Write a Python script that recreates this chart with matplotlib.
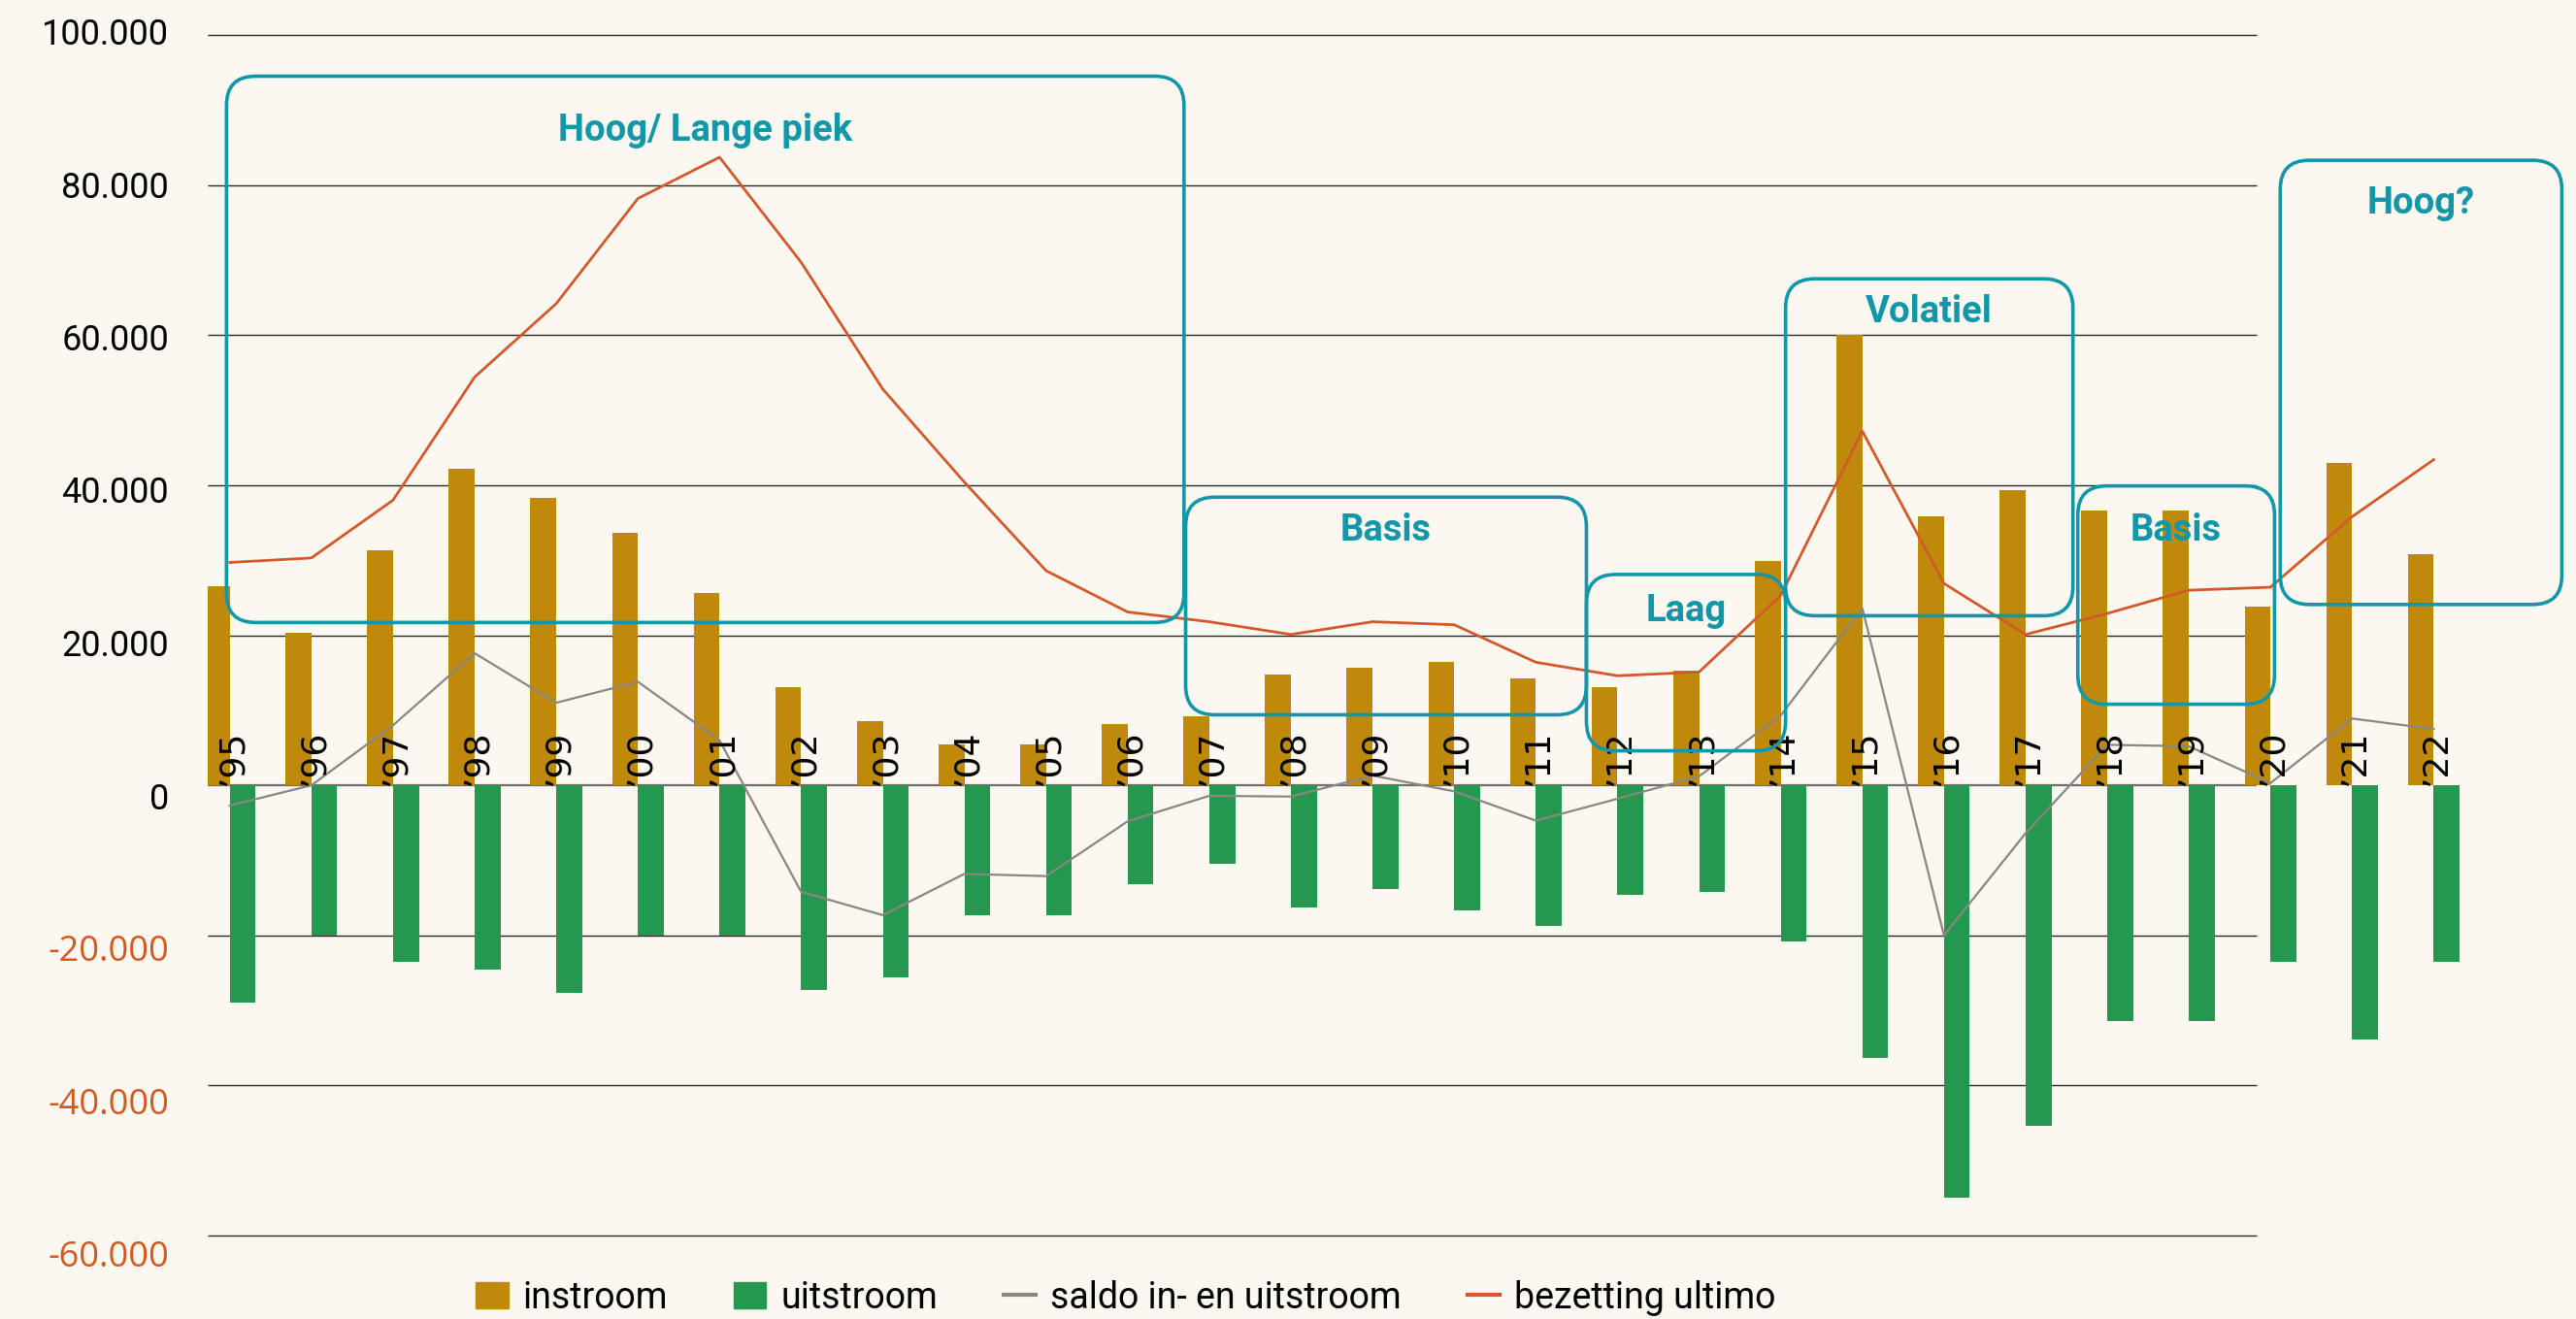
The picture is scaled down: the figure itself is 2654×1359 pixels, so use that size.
import numpy as np
import matplotlib
matplotlib.use("Agg")
import matplotlib.pyplot as plt
import matplotlib.transforms as mtransforms
from matplotlib.patches import FancyBboxPatch, Patch
from matplotlib.lines import Line2D

# data
years = ["95", "96", "97", "98", "99", "00", "01", "02", "03", "04", "05", "06", "07", "08",
         "09", "10", "11", "12", "13", "14", "15", "16", "17", "18", "19", "20", "21", "22"]
instroom = [26500, 20300, 31300, 42200, 38300, 33700, 25600, 13100, 8600, 5400, 5400, 8200, 9200, 14800,
            15700, 16400, 14200, 13100, 15300, 29900, 60000, 35900, 39300, 36600, 36600, 23800, 43000, 30800]
uitstroom = [-29000, -20000, -23500, -24600, -27700, -20000, -20000, -27300, -25600, -17300, -17300, -13200, -10500, -16300,
             -13800, -16700, -18700, -14600, -14200, -20800, -36300, -55000, -45400, -31400, -31400, -23500, -33900, -23500]
saldo = [-2700, 0, 8000, 17600, 11000, 13800, 6000, -14200, -17300, -11800, -12100, -4800, -1400, -1500,
         1300, -800, -4700, -1800, 1200, 9300, 23600, -20000, -6400, 5400, 5200, 300, 8900, 7500]
bezetting = [29700, 30300, 38000, 54400, 64200, 78200, 83700, 69700, 52800, 40400, 28600, 23100, 21800, 20100,
             21800, 21400, 16400, 14600, 15100, 25300, 47200, 26900, 20100, 22900, 26000, 26400, 35800, 43400]
yticks = [100000, 80000, 60000, 40000, 20000, 0, -20000, -40000, -60000]

# periods (annotation boxes)
period_labels = ["Hoog/ Lange piek", "Basis", "Laag", "Volatiel", "Basis", "Hoog?"]
period_x0 = [-0.04, 11.71, 16.62, 19.06, 22.64, 25.12]
period_x1 = [11.69, 16.62, 19.06, 22.58, 25.05, 28.57]
period_ylow = [21700, 9400, 4600, 22600, 10800, 24100]
period_yhigh = [94500, 38400, 28100, 67500, 39900, 83300]
period_texty = [87300, 34000, 23200, 63100, 34000, 77600]

BG = "#FBF8F1"
GOLD = "#BF8A0C"
GREEN = "#25984F"
ORANGE = "#D4582A"
GRAY = "#8A8681"
TEAL = "#1396A8"
NEG = "#D2591F"

W, H, DPI = 2654, 1359, 100
fig = plt.figure(figsize=(W / DPI, H / DPI), dpi=DPI, facecolor=BG)
ax_rect = [214 / W, 1 - 1273 / H, 1 - 214 / W, (1273 - 36) / H]
ax = fig.add_axes(ax_rect)
ax.set_facecolor(BG)

xlim = (-0.27, -0.27 + (W - 214) / 84.1)
ylim = (-60000, 100000)
ax.set_xlim(*xlim)
ax.set_ylim(*ylim)
for s in ax.spines.values():
    s.set_visible(False)
ax.set_xticks([])
ax.set_yticks([])

x = np.arange(len(years))
w = 0.317
grid_end = 24.83

# gridlines
for v in yticks:
    if v == 0:
        ax.hlines(v, xlim[0], grid_end, color="#6e6e6e", lw=1.6, zorder=1, clip_on=False)
    else:
        ax.hlines(v, xlim[0], grid_end, color="#2a2a2a", lw=1.0, zorder=1, clip_on=False)

ax.bar(x - w / 2, instroom, w, color=GOLD, zorder=2)
ax.bar(x + w / 2, uitstroom, w, color=GREEN, zorder=2)
ax.plot(x, saldo, color=GRAY, lw=1.6, zorder=3)
ax.plot(x, bezetting, color=ORANGE, lw=2.0, zorder=3)

# x labels sitting on the zero line
for xi, y in zip(x, years):
    ax.text(xi + 0.03, 0, "\u2019" + y, rotation=90, ha="center", va="bottom",
            fontsize=26, family="DejaVu Sans", color="black", zorder=4)

# y labels
for v in yticks:
    dy = -(100000 - v) / 160000 * 23
    tr = ax.transData + mtransforms.ScaledTranslation(-40 / DPI, dy / DPI, fig.dpi_scale_trans)
    lab = f"{v:,}".replace(",", ".")
    if v < 0:
        ax.text(xlim[0], v, lab, transform=tr, ha="right", va="center",
                fontsize=26, family="Open Sans", color=NEG)
    else:
        ax.text(xlim[0], v, lab, transform=tr, ha="right", va="center",
                fontsize=26, family="Roboto", color="black")

# rounded period boxes, corner radius in pixels
ax_w_px = ax_rect[2] * W
ax_h_px = ax_rect[3] * H
xu = (xlim[1] - xlim[0]) / ax_w_px
yu = (ylim[1] - ylim[0]) / ax_h_px
r = 30 * xu
for lab, x0, x1, y0, y1, ty in zip(period_labels, period_x0, period_x1,
                                    period_ylow, period_yhigh, period_texty):
    box = FancyBboxPatch((x0, y0), x1 - x0, y1 - y0,
                         boxstyle=f"round,pad=0,rounding_size={r}",
                         mutation_aspect=yu / xu, fill=False,
                         ec=TEAL, lw=2.6, zorder=5)
    ax.add_patch(box)
    ax.text((x0 + x1) / 2, ty, lab, ha="center", va="center", color=TEAL,
            fontsize=27.5, fontweight="bold", family="Roboto", zorder=6)

handles = [
    Patch(color=GOLD, label="instroom"),
    Patch(color=GREEN, label="uitstroom"),
    Line2D([], [], color=GRAY, lw=3, label="saldo in- en uitstroom"),
    Line2D([], [], color=ORANGE, lw=3, label="bezetting ultimo"),
]
fig.legend(handles=handles, loc="center", bbox_to_anchor=(0.437, 0.016), ncol=4,
           frameon=False, prop={"family": "Roboto", "size": 27},
           handlelength=0.9, handleheight=0.75, handletextpad=0.4, columnspacing=1.8)

fig.savefig("out.png", dpi=DPI, facecolor=BG)
